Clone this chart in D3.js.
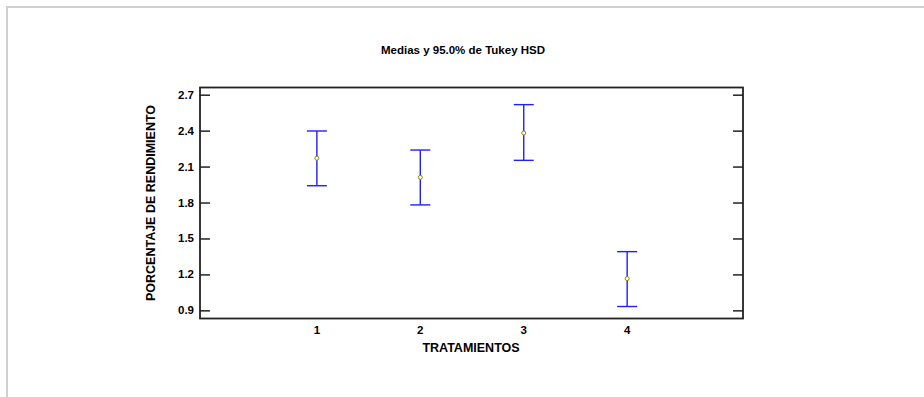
<!DOCTYPE html>
<html><head><meta charset="utf-8">
<script src="https://cdn.jsdelivr.net/npm/d3@7"></script>
<style>
html,body{margin:0;padding:0;background:#fff;}
text{font-family:"Liberation Sans",Arial,sans-serif;font-weight:bold;fill:#000;}
</style></head>
<body>
<script>
const categories = ["1","2","3","4"];
const means = [2.17, 2.01, 2.38, 1.165];
const lowers = [1.94, 1.78, 2.152, 0.932];
const uppers = [2.397, 2.238, 2.617, 1.39];
const yTicks = [0.9, 1.2, 1.5, 1.8, 2.1, 2.4, 2.7];
const title = "Medias y 95.0% de Tukey HSD";
const xLabel = "TRATAMIENTOS";
const yLabel = "PORCENTAJE DE RENDIMIENTO";

const W = 924, H = 397;
const svg = d3.select("body").append("svg").attr("width", W).attr("height", H);

// outer frame
svg.append("rect").attr("x", 7).attr("y", 7).attr("width", 1000).attr("height", 1000)
  .attr("fill", "none").attr("stroke", "#d0d0d0").attr("stroke-width", 2);

const L = 200, R = 743, T = 87.5, B = 318.5;
const x = d3.scaleLinear().domain([-0.13, 5.12]).range([L, R]);
const y = d3.scaleLinear().domain([0.832, 2.76]).range([B, T]);

// ticks (inward)
const g = svg.append("g");
g.append("g").attr("transform", `translate(${L},0)`)
  .call(d3.axisRight(y).tickValues(yTicks).tickSize(10).tickFormat(""))
  .call(a => a.select(".domain").remove())
  .call(a => a.selectAll("line").attr("stroke", "#222").attr("stroke-width", 1.5));
g.append("g").attr("transform", `translate(${R},0)`)
  .call(d3.axisLeft(y).tickValues(yTicks).tickSize(10).tickFormat(""))
  .call(a => a.select(".domain").remove())
  .call(a => a.selectAll("line").attr("stroke", "#222").attr("stroke-width", 1.5));

// y tick labels
svg.selectAll(".ytl").data(yTicks).enter().append("text")
  .attr("x", 194).attr("y", d => y(d)).attr("dy", "0.35em")
  .attr("text-anchor", "end").attr("font-size", 11.5)
  .text(d => d3.format(".1f")(d));

// x tick labels
svg.selectAll(".xtl").data(categories).enter().append("text")
  .attr("x", d => x(+d)).attr("y", 334)
  .attr("text-anchor", "middle").attr("font-size", 11.5)
  .text(d => d);

// frame
svg.append("rect").attr("x", L).attr("y", T).attr("width", R - L).attr("height", B - T)
  .attr("fill", "none").attr("stroke", "#222").attr("stroke-width", 1.8);

// error bars
const data = categories.map((c, i) => ({c: +c, m: means[i], lo: lowers[i], hi: uppers[i]}));
const eb = svg.append("g").attr("stroke", "#1f1fff").attr("stroke-width", 1.4);
eb.selectAll(".v").data(data).enter().append("line")
  .attr("x1", d => x(d.c)).attr("x2", d => x(d.c))
  .attr("y1", d => y(d.lo)).attr("y2", d => y(d.hi));
eb.selectAll(".ct").data(data).enter().append("line")
  .attr("x1", d => x(d.c) - 10).attr("x2", d => x(d.c) + 10)
  .attr("y1", d => y(d.hi)).attr("y2", d => y(d.hi));
eb.selectAll(".cb").data(data).enter().append("line")
  .attr("x1", d => x(d.c) - 10).attr("x2", d => x(d.c) + 10)
  .attr("y1", d => y(d.lo)).attr("y2", d => y(d.lo));

svg.selectAll(".pt").data(data).enter().append("circle")
  .attr("cx", d => x(d.c)).attr("cy", d => y(d.m)).attr("r", 2)
  .attr("fill", "#ffffff").attr("stroke", "#8a8a00").attr("stroke-width", 1);

// title and labels
svg.append("text").attr("x", 463).attr("y", 54).attr("text-anchor", "middle")
  .attr("font-size", 11.5).text(title);
svg.append("text").attr("x", 471).attr("y", 352).attr("text-anchor", "middle")
  .attr("font-size", 12.5).text(xLabel);
svg.append("text").attr("transform", `translate(155,203) rotate(-90)`)
  .attr("text-anchor", "middle").attr("font-size", 12.5).text(yLabel);
</script>
</body></html>
